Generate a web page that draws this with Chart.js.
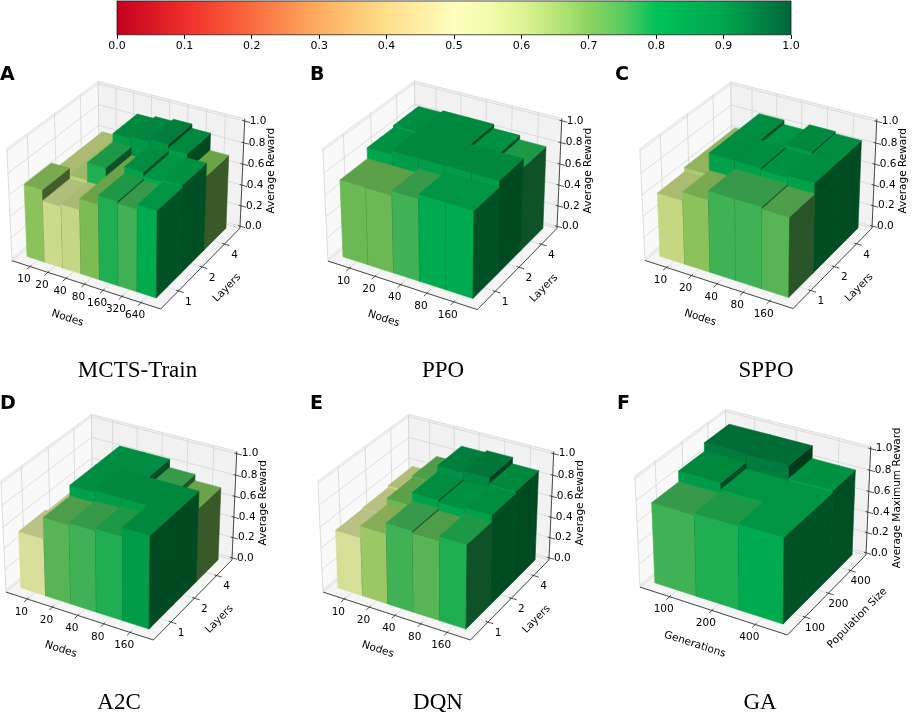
<!DOCTYPE html>
<html>
<head>
<meta charset="utf-8">
<script src="https://cdn.jsdelivr.net/npm/chart.js@4.4.0/dist/chart.umd.min.js"></script>
<style>
  html, body { margin: 0; padding: 0; background: #fff; }
  #wrap { position: relative; width: 913px; height: 712px; overflow: hidden; }
  canvas { position: absolute; }
</style>
</head>
<body>
<div id="wrap"></div>
<script>
// tick labels
const cbarTicks = [0.0, 0.1, 0.2, 0.3, 0.4, 0.5, 0.6, 0.7, 0.8, 0.9, 1.0];
const zTicks = [0.0, 0.2, 0.4, 0.6, 0.8, 1.0];
const nodes7 = ["10", "20", "40", "80", "160", "320", "640"];
const nodes5 = ["10", "20", "40", "80", "160"];
const layers = ["1", "2", "4"];
const gaGenerations = ["100", "200", "400"];
const gaPopulation = ["100", "200", "400"];

// average reward, one row per layer (1, 2, 4), one column per node count
const mctsTrain = [
  [0.68, 0.58, 0.60, 0.70, 0.78, 0.76, 0.80],
  [0.60, 0.62, 0.78, 0.70, 0.84, 0.80, 0.82],
  [0.60, 0.62, 0.86, 0.88, 0.90, 0.86, 0.70],
];
const ppo = [
  [0.72, 0.72, 0.76, 0.80, 0.80],
  [0.82, 0.86, 0.86, 0.86, 0.86],
  [0.84, 0.86, 0.86, 0.82, 0.78],
];
const sppo = [
  [0.60, 0.68, 0.76, 0.76, 0.74],
  [0.64, 0.84, 0.84, 0.82, 0.84],
  [0.64, 0.84, 0.80, 0.86, 0.84],
];
const a2c = [
  [0.54, 0.74, 0.76, 0.78, 0.86],
  [0.52, 0.84, 0.86, 0.86, 0.86],
  [0.50, 0.84, 0.84, 0.76, 0.70],
];
const dqn = [
  [0.55, 0.66, 0.76, 0.74, 0.78],
  [0.56, 0.72, 0.84, 0.82, 0.84],
  [0.58, 0.74, 0.90, 0.92, 0.86],
];
// average maximum reward, one row per population size, one column per generation count
const ga = [
  [0.76, 0.78, 0.80],
  [0.86, 0.80, 0.80],
  [0.94, 0.94, 0.82],
];

// red - yellow - green colour map
const cmapStops = [
  [0.0, "#c4001f"], [0.1, "#ee2d2b"], [0.2, "#fa6b3f"], [0.3, "#fdad60"],
  [0.4, "#fedf8b"], [0.5, "#fefebe"], [0.55, "#f2fcac"], [0.6, "#dff494"],
  [0.65, "#b9e676"], [0.7, "#8cd55f"], [0.75, "#5acb62"], [0.8, "#00c259"],
  [0.9, "#00a64e"], [1.0, "#00663a"],
];
// matplotlib bar3d light shading of the three visible faces
const SHADE_FRONT = 0.883, SHADE_TOP = 0.767, SHADE_RIGHT = 0.417;

function hexRgb(h) {
  return [parseInt(h.slice(1, 3), 16), parseInt(h.slice(3, 5), 16), parseInt(h.slice(5, 7), 16)];
}

function cmap(v) {
  v = Math.max(0, Math.min(1, v));
  for (let i = 1; i < cmapStops.length; i++) {
    if (v <= cmapStops[i][0]) {
      const [a, ca] = cmapStops[i - 1];
      const [b, cb] = cmapStops[i];
      const t = (v - a) / (b - a);
      const A = hexRgb(ca), B = hexRgb(cb);
      return A.map((c, k) => c + (B[k] - c) * t);
    }
  }
  return hexRgb(cmapStops[cmapStops.length - 1][1]);
}

function shade(rgb, f) {
  return "rgb(" + rgb.map((c) => Math.round(c * f)).join(",") + ")";
}

// matplotlib style view: elev 30, azim -60, box aspect 4:4:3, camera distance 10
const BOXS = 1.8294640721620434 / Math.sqrt(41);
const BX = 4 * BOXS, BZ = 3 * BOXS;
function project(xn, yn, zn) {
  const X = (xn - 0.5) * BX, Y = (yn - 0.5) * BX, Z = (zn - 0.5) * BZ;
  const u = 0.8660254 * X + 0.5 * Y;
  const v = -0.25 * X + 0.4330127 * Y + 0.8660254 * Z;
  const w = 0.4330127 * X - 0.75 * Y + 0.5 * Z;
  const d = 10 - w;
  return [u / d, v / d];
}

const MARGIN = 0.064;
function zNorm(v) {
  return (v + 1 / 48) / (1 + 2 / 48);
}

const panels = [
  { letter: "A", title: "MCTS-Train", vals: mctsTrain, xt: nodes7, yt: layers,
    xl: "Nodes", yl: "Layers", zl: "Average Reward",
    cx: 128, cy: 190, K: 1491, rect: [0, 52, 300, 336], lx: 0, tx: 137.5, ylOff: [25, 21] },
  { letter: "B", title: "PPO", vals: ppo, xt: nodes5, yt: layers,
    xl: "Nodes", yl: "Layers", zl: "Average Reward",
    cx: 444.5, cy: 190, K: 1498, rect: [300, 52, 315, 336], lx: 310, tx: 443, ylOff: [25, 21] },
  { letter: "C", title: "SPPO", vals: sppo, xt: nodes5, yt: layers,
    xl: "Nodes", yl: "Layers", zl: "Average Reward",
    cx: 760.5, cy: 190, K: 1485, rect: [615, 52, 298, 336], lx: 615, tx: 766, ylOff: [25, 21] },
  { letter: "D", title: "A2C", vals: a2c, xt: nodes5, yt: layers,
    xl: "Nodes", yl: "Layers", zl: "Average Reward",
    cx: 121, cy: 522, K: 1478, rect: [0, 388, 300, 324], lx: 0, tx: 119, ylOff: [25, 21] },
  { letter: "E", title: "DQN", vals: dqn, xt: nodes5, yt: layers,
    xl: "Nodes", yl: "Layers", zl: "Average Reward",
    cx: 438, cy: 522, K: 1478, rect: [300, 388, 315, 324], lx: 310, tx: 438, ylOff: [25, 21] },
  { letter: "F", title: "GA", vals: ga, xt: gaGenerations, yt: gaPopulation,
    xl: "Generations", yl: "Population Size", zl: "Average Maximum Reward",
    cx: 755, cy: 517, K: 1478, rect: [615, 388, 298, 324], lx: 617, tx: 760, ylOff: [29, 25] },
];

const wrap = document.getElementById("wrap");
function addCanvas(x, y, w, h) {
  const c = document.createElement("canvas");
  c.width = w;
  c.height = h;
  c.style.left = x + "px";
  c.style.top = y + "px";
  c.style.width = w + "px";
  c.style.height = h + "px";
  wrap.appendChild(c);
  return c;
}

const TICK_FONT = '10.5px "DejaVu Sans"';
const GRID = "#d6d6d6";

function panelPlugin(p) {
  return {
    id: "bars3d" + p.letter,
    afterDatasetsDraw(chart) {
      const ctx = chart.ctx;
      const xs = chart.scales.x, ys = chart.scales.y;
      const ox = p.rect[0], oy = p.rect[1];
      const pt = (a, b, c) => {
        const q = project(a, b, c);
        return [xs.getPixelForValue(q[0]), ys.getPixelForValue(q[1])];
      };
      const poly = (pts, fill, stroke, lw) => {
        ctx.beginPath();
        pts.forEach((q, i) => (i ? ctx.lineTo(q[0], q[1]) : ctx.moveTo(q[0], q[1])));
        ctx.closePath();
        if (fill) { ctx.fillStyle = fill; ctx.fill(); }
        if (stroke) { ctx.strokeStyle = stroke; ctx.lineWidth = lw; ctx.stroke(); }
      };
      const line = (a, b, color, lw) => {
        ctx.beginPath();
        ctx.moveTo(a[0], a[1]);
        ctx.lineTo(b[0], b[1]);
        ctx.strokeStyle = color;
        ctx.lineWidth = lw;
        ctx.stroke();
      };
      const nx = p.xt.length, ny = p.yt.length;
      const cw = (1 - 2 * MARGIN) / nx, rw = (1 - 2 * MARGIN) / ny;
      const xc = p.xt.map((_, i) => MARGIN + (i + 0.5) * cw);
      const yc = p.yt.map((_, j) => MARGIN + (j + 0.5) * rw);
      const zc = zTicks.map(zNorm);

      ctx.save();
      // panes
      poly([pt(0, 0, 0), pt(1, 0, 0), pt(1, 1, 0), pt(0, 1, 0)], "#f5f5f5", GRID, 0.8);
      poly([pt(0, 0, 0), pt(0, 1, 0), pt(0, 1, 1), pt(0, 0, 1)], "#f9f9f9", GRID, 0.8);
      poly([pt(0, 1, 0), pt(1, 1, 0), pt(1, 1, 1), pt(0, 1, 1)], "#f2f2f2", GRID, 0.8);
      // grid
      xc.forEach((x) => {
        line(pt(x, 0, 0), pt(x, 1, 0), GRID, 0.8);
        line(pt(x, 1, 0), pt(x, 1, 1), GRID, 0.8);
      });
      yc.forEach((y) => {
        line(pt(0, y, 0), pt(1, y, 0), GRID, 0.8);
        line(pt(0, y, 0), pt(0, y, 1), GRID, 0.8);
      });
      zc.forEach((z) => {
        line(pt(0, 0, z), pt(0, 1, z), GRID, 0.8);
        line(pt(0, 1, z), pt(1, 1, z), GRID, 0.8);
      });
      // axis lines and ticks
      const AX = "#262626";
      line(pt(0, 0, 0), pt(1, 0, 0), AX, 0.8);
      line(pt(1, 0, 0), pt(1, 1, 0), AX, 0.8);
      line(pt(1, 1, 0), pt(1, 1, 1), AX, 0.8);
      xc.forEach((x) => line(pt(x, 0.015, 0), pt(x, -0.035, 0), AX, 0.8));
      yc.forEach((y) => line(pt(0.985, y, 0), pt(1.035, y, 0), AX, 0.8));
      zc.forEach((z) => line(pt(0.985, 1, z), pt(1.035, 1, z), AX, 0.8));

      // tick labels
      ctx.fillStyle = "#000";
      ctx.font = TICK_FONT;
      ctx.textAlign = "center";
      ctx.textBaseline = "middle";
      p.xt.forEach((t, i) => {
        const q = pt(xc[i], 0, 0);
        ctx.fillText(t, q[0] - 6, q[1] + 13);
      });
      p.yt.forEach((t, j) => {
        const q = pt(1, yc[j], 0);
        ctx.fillText(t, q[0] + 10, q[1] + 11);
      });
      ctx.textAlign = "left";
      zTicks.forEach((t, k) => {
        const q = pt(1, 1, zc[k]);
        ctx.fillText(t.toFixed(1), q[0] + 5, q[1]);
      });

      // axis labels
      ctx.textAlign = "center";
      const a0 = pt(0, 0, 0), a1 = pt(1, 0, 0), b1 = pt(1, 1, 0);
      const xm = pt(0.5, 0, 0), ym = pt(1, 0.5, 0), zm = pt(1, 1, 0.5);
      const rotText = (txt, x, y, ang) => {
        ctx.save();
        ctx.translate(x, y);
        ctx.rotate(ang);
        ctx.fillText(txt, 0, 0);
        ctx.restore();
      };
      rotText(p.xl, xm[0] - 17, xm[1] + 34, Math.atan2(a1[1] - a0[1], a1[0] - a0[0]));
      rotText(p.yl, ym[0] + p.ylOff[0], ym[1] + p.ylOff[1], Math.atan2(b1[1] - a1[1], b1[0] - a1[0]));
      rotText(p.zl, zm[0] + 29, zm[1] - 4, -Math.PI / 2);

      // bars, back rows first, left columns first
      const zb = zNorm(0);
      for (let j = ny - 1; j >= 0; j--) {
        for (let i = 0; i < nx; i++) {
          const v = p.vals[j][i];
          const rgb = cmap(v);
          const x0 = MARGIN + i * cw, x1 = x0 + cw;
          const y0 = MARGIN + j * rw, y1 = y0 + rw;
          const zt = zNorm(v);
          const front = shade(rgb, SHADE_FRONT), right = shade(rgb, SHADE_RIGHT), top = shade(rgb, SHADE_TOP);
          poly([pt(x0, y0, zb), pt(x1, y0, zb), pt(x1, y0, zt), pt(x0, y0, zt)], front, front, 0.6);
          poly([pt(x1, y0, zb), pt(x1, y1, zb), pt(x1, y1, zt), pt(x1, y0, zt)], right, right, 0.6);
          poly([pt(x0, y0, zt), pt(x1, y0, zt), pt(x1, y1, zt), pt(x0, y1, zt)], top, top, 0.6);
        }
      }

      // panel letter and title
      ctx.fillStyle = "#000";
      ctx.textAlign = "left";
      ctx.textBaseline = "alphabetic";
      ctx.font = 'bold 19px "DejaVu Sans"';
      const rowY = oy < 300 ? 80 : 409;
      ctx.fillText(p.letter, p.lx - ox, rowY - oy);
      ctx.textAlign = "center";
      ctx.font = '23px "Liberation Serif"';
      ctx.fillText(p.title, p.tx - ox, (oy < 300 ? 377 : 709) - oy);
      ctx.restore();
    },
  };
}

panels.forEach((p) => {
  const [x, y, w, h] = p.rect;
  const canvas = addCanvas(x, y, w, h);
  new Chart(canvas, {
    type: "scatter",
    data: { datasets: [] },
    options: {
      responsive: false,
      animation: false,
      events: [],
      layout: { padding: 0 },
      plugins: { legend: { display: false }, tooltip: { enabled: false } },
      scales: {
        x: { type: "linear", display: false, min: (x - p.cx) / p.K, max: (x + w - p.cx) / p.K },
        y: { type: "linear", display: false, min: (p.cy - y - h) / p.K, max: (p.cy - y) / p.K },
      },
    },
    plugins: [panelPlugin(p)],
  });
});

// colour bar
const cbCanvas = addCanvas(0, 0, 913, 54);
new Chart(cbCanvas, {
  type: "scatter",
  data: { datasets: [] },
  options: {
    responsive: false,
    animation: false,
    events: [],
    layout: { padding: { left: 117, right: 122, top: 1, bottom: 0 } },
    plugins: { legend: { display: false }, tooltip: { enabled: false } },
    scales: {
      x: {
        type: "linear",
        min: 0,
        max: 1,
        afterBuildTicks: (axis) => { axis.ticks = cbarTicks.map((v) => ({ value: v })); },
        ticks: {
          autoSkip: false,
          maxRotation: 0,
          padding: 1,
          color: "#000",
          font: { family: "DejaVu Sans", size: 11 },
          callback: (v) => Number(v).toFixed(1),
        },
        grid: { drawOnChartArea: false, drawTicks: true, tickLength: 4, color: "#000" },
        border: { display: false },
      },
      y: { type: "linear", display: false, min: 0, max: 1 },
    },
  },
  plugins: [{
    id: "cbar",
    beforeDatasetsDraw(chart) {
      const { ctx, chartArea: a } = chart;
      const g = ctx.createLinearGradient(a.left, 0, a.right, 0);
      cmapStops.forEach(([v, c]) => g.addColorStop(v, c));
      ctx.save();
      ctx.fillStyle = g;
      ctx.fillRect(a.left, a.top, a.right - a.left, a.bottom - a.top);
      ctx.strokeStyle = "#222";
      ctx.lineWidth = 0.8;
      ctx.strokeRect(a.left, a.top, a.right - a.left, a.bottom - a.top);
      ctx.restore();
    },
  }],
});
</script>
</body>
</html>
